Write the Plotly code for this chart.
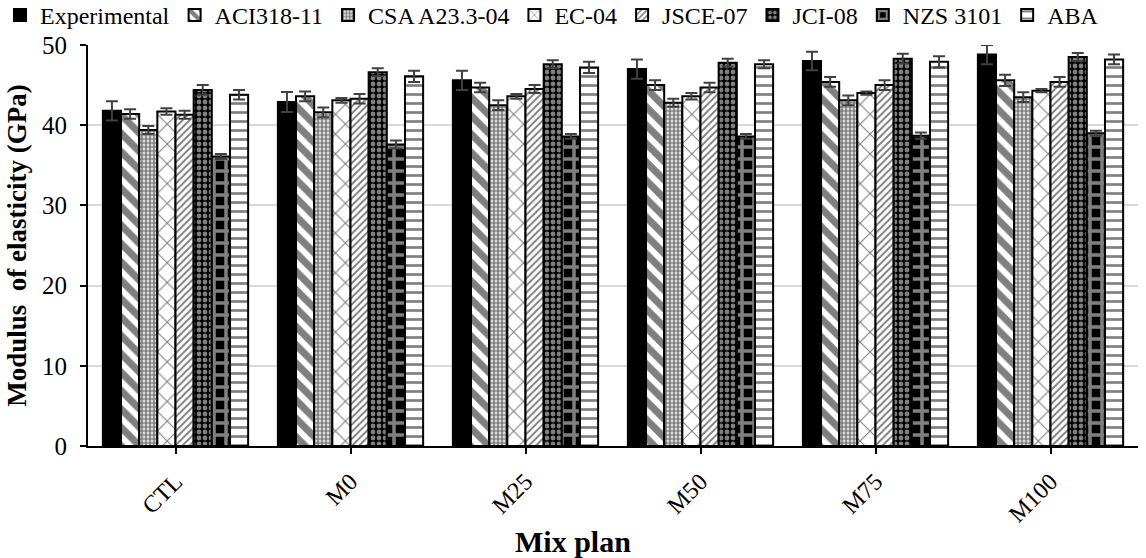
import plotly.graph_objects as go

# Mix plans on the x axis
categories = ["CTL", "M0", "M25", "M50", "M75", "M100"]

# Modulus of elasticity (GPa): measured values and code predictions
experimental = [41.8, 42.9, 45.6, 47.0, 48.0, 48.8]
experimental_err = [1.2, 1.25, 1.2, 1.2, 1.15, 1.2]
aci318 = [41.4, 43.6, 44.7, 45.0, 45.4, 45.6]
aci318_err = [0.6, 0.6, 0.6, 0.6, 0.6, 0.7]
csa_a23 = [39.4, 41.6, 42.5, 42.8, 43.1, 43.5]
csa_a23_err = [0.5, 0.6, 0.6, 0.5, 0.6, 0.6]
ec04 = [41.7, 43.1, 43.6, 43.6, 44.0, 44.3]
ec04_err = [0.4, 0.3, 0.3, 0.4, 0.2, 0.2]
jsce07 = [41.3, 43.3, 44.5, 44.7, 45.0, 45.4]
jsce07_err = [0.5, 0.6, 0.5, 0.6, 0.6, 0.6]
jci08 = [44.4, 46.6, 47.6, 47.8, 48.3, 48.5]
jci08_err = [0.6, 0.5, 0.5, 0.5, 0.6, 0.5]
nzs3101 = [36.1, 37.6, 38.6, 38.6, 38.7, 39.0]
nzs3101_err = [0.3, 0.5, 0.3, 0.3, 0.4, 0.3]
aba = [43.8, 46.1, 47.2, 47.6, 47.9, 48.2]
aba_err = [0.6, 0.7, 0.7, 0.5, 0.7, 0.6]

FONT = "Liberation Serif"

series = [
    ("Experimental", experimental, experimental_err, dict(shape="", bgcolor="black")),
    ("ACI318-11", aci318, aci318_err, dict(shape="\\", fgcolor="black", bgcolor="white", size=13, solidity=0.55)),
    ("CSA A23.3-04", csa_a23, csa_a23_err, dict(shape=".", fgcolor="black", bgcolor="white", size=4, solidity=0.7)),
    ("EC-04", ec04, ec04_err, dict(shape="x", fgcolor="black", bgcolor="white", size=14, solidity=0.15)),
    ("JSCE-07", jsce07, jsce07_err, dict(shape="/", fgcolor="black", bgcolor="white", size=5, solidity=0.4)),
    ("JCI-08", jci08, jci08_err, dict(shape=".", fgcolor="white", bgcolor="black", size=6, solidity=0.5)),
    ("NZS 3101", nzs3101, nzs3101_err, dict(shape="+", fgcolor="white", bgcolor="black", size=12, solidity=0.5)),
    ("ABA", aba, aba_err, dict(shape="-", fgcolor="black", bgcolor="white", size=9, solidity=0.3)),
]

fig = go.Figure()
for name, vals, errs, pat in series:
    fig.add_trace(go.Bar(
        name=name,
        x=categories,
        y=vals,
        marker=dict(color="white" if pat.get("shape") else "black",
                    line=dict(color="black", width=2),
                    pattern=pat),
        error_y=dict(type="data", array=errs, visible=True,
                     color="#404040", thickness=2, width=6),
    ))

# x-axis title, centred on the full chart width
fig.add_annotation(
    text="<b>Mix plan</b>",
    xref="paper", yref="paper",
    x=0.462, y=-0.237,
    xanchor="center", yanchor="middle",
    showarrow=False,
    font=dict(family=FONT, size=30, color="black"),
)

fig.update_layout(
    barmode="group",
    bargap=0.17,
    bargroupgap=0.0,
    width=1146,
    height=558,
    margin=dict(l=88, r=8, t=45, b=112, autoexpand=False),
    paper_bgcolor="white",
    plot_bgcolor="white",
    font=dict(family=FONT, size=24, color="black"),
    legend=dict(
        orientation="h",
        xref="paper", yref="paper",
        x=-0.0838, xanchor="left",
        y=1.13, yanchor="top",
        font=dict(family=FONT, size=24, color="black"),
        itemwidth=30,
        bgcolor="rgba(0,0,0,0)",
    ),
    xaxis=dict(
        tickangle=-45,
        tickfont=dict(family=FONT, size=24),
        showline=True, linecolor="black", linewidth=2,
        ticks="outside", ticklen=6, tickcolor="black", tickwidth=2,
        ticklabelstandoff=4,
        showgrid=False,
    ),
    yaxis=dict(
        title=dict(text="<b>Modulus  of elasticity (GPa)</b>", font=dict(family=FONT, size=27), standoff=8),
        range=[0, 50],
        dtick=10,
        tickfont=dict(family=FONT, size=25),
        showline=True, linecolor="black", linewidth=2,
        ticks="outside", ticklen=6, tickcolor="black", tickwidth=2,
        ticklabelstandoff=8,
        showgrid=True, gridcolor="#d9d9d9", gridwidth=2,
        zeroline=False,
    ),
)

fig.write_html("out.html")
